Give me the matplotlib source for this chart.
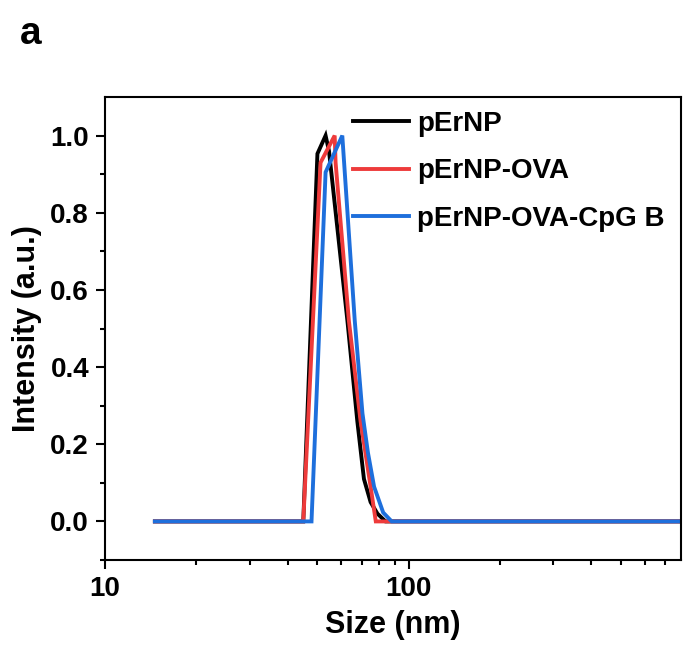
import matplotlib
matplotlib.use("Agg")
import matplotlib.pyplot as plt
from matplotlib.ticker import LogLocator, NullFormatter, FixedLocator

plt.rcParams['font.family'] = ['Liberation Sans', 'DejaVu Sans']
plt.rcParams['font.weight'] = 'bold'

# Data
size_black = [14.6, 45.0, 50.1, 53.3, 54.7, 62.9, 67.8, 71.3, 75.0, 79.0, 84.0, 790]
int_black = [0, 0, 0.953, 1.0, 0.96, 0.52, 0.26, 0.11, 0.05, 0.02, 0, 0]

size_red = [14.6, 45.0, 51.3, 57.1, 57.5, 63.6, 69.5, 75.0, 78.0, 790]
int_red = [0, 0, 0.93, 1.0, 0.93, 0.52, 0.26, 0.09, 0, 0]

size_blue = [14.6, 47.9, 53.3, 60.5, 66.5, 70.5, 73.5, 77.0, 82.5, 88.0, 790]
int_blue = [0, 0, 0.905, 1.0, 0.52, 0.28, 0.178, 0.09, 0.023, 0, 0]

labels = ['pErNP', 'pErNP-OVA', 'pErNP-OVA-CpG B']
colors = ['#000000', '#EE3B3B', '#1E6FDC']

fig = plt.figure(figsize=(6.83, 6.52), dpi=100)
ax = fig.add_axes([105/683, 92/652, 576/683, 463/652])

for xs, ys, lab, c in zip([size_black, size_red, size_blue],
                          [int_black, int_red, int_blue], labels, colors):
    ax.plot(xs, ys, color=c, lw=2.8, label=lab, solid_joinstyle='miter')

ax.set_xscale('log')
ax.set_xlim(10, 790)
ax.set_ylim(-0.1, 1.1)
ax.xaxis.set_major_locator(FixedLocator([10, 100]))
ax.set_xticklabels(['10', '100'])
ax.xaxis.set_minor_locator(LogLocator(base=10, subs=range(2, 10)))
ax.xaxis.set_minor_formatter(NullFormatter())
ax.yaxis.set_major_locator(FixedLocator([0, 0.2, 0.4, 0.6, 0.8, 1.0]))
ax.set_yticklabels(['0.0', '0.2', '0.4', '0.6', '0.8', '1.0'])
ax.yaxis.set_minor_locator(FixedLocator([-0.1, 0.1, 0.3, 0.5, 0.7, 0.9]))

ax.tick_params(which='major', direction='out', length=6.5, width=1.5, labelsize=20)
ax.tick_params(axis='y', which='major', pad=5)
ax.tick_params(axis='x', which='major', pad=5)
ax.tick_params(which='minor', direction='out', length=3.5, width=1.5)
for s in ax.spines.values():
    s.set_linewidth(1.5)

ax.set_xlabel('Size (nm)', fontsize=22, fontweight='bold', labelpad=6)
ax.set_ylabel('Intensity (a.u.)', fontsize=22, fontweight='bold', labelpad=6)

leg = ax.legend(loc='upper left', bbox_to_anchor=(0.4306, 0.97), frameon=False,
                fontsize=20, handlelength=2.0, handletextpad=0.3,
                labelspacing=0.77, borderaxespad=0, borderpad=0)

fig.text(20/683, 1 - 44/652, 'a', fontsize=28, fontweight='bold')

fig.savefig('out.png', dpi=100)
